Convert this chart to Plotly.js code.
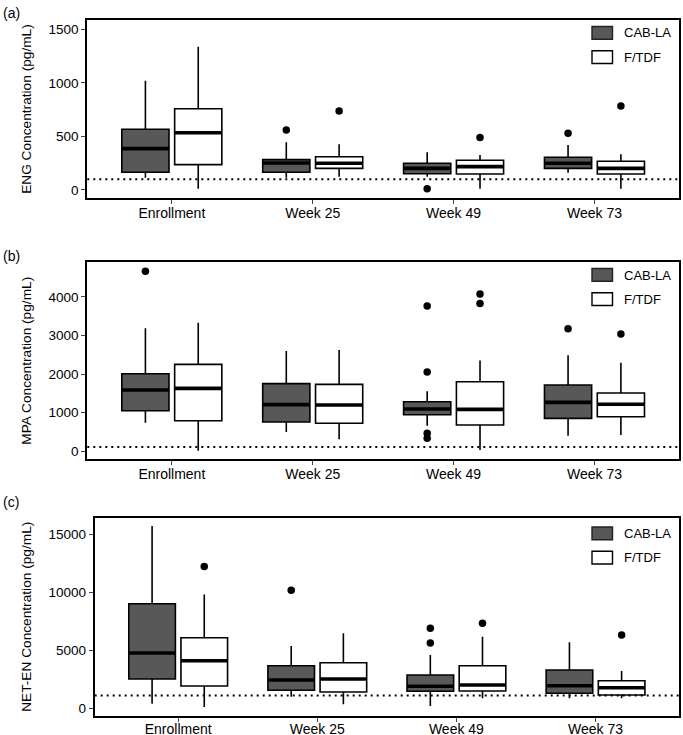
<!DOCTYPE html>
<html>
<head>
<meta charset="utf-8">
<script src="https://cdn.plot.ly/plotly-3.0.1.min.js"></script>
<style>
  html, body { margin: 0; padding: 0; background: #ffffff; }
  #chart { width: 683px; height: 735px; }
</style>
</head>
<body>
<div id="chart"></div>
<script>
// Visit labels shared by all three panels
const categories = ['Enrollment', 'Week 25', 'Week 49', 'Week 73'];
const groups = ['CAB-LA', 'F/TDF'];

// (a) ENG concentration (pg/mL): box summaries per visit
const engCabLower  = [115, 115, 124, 162];
const engCabQ1     = [165, 165, 152, 202];
const engCabMedian = [386, 252, 202, 249];
const engCabQ3     = [567, 283, 249, 305];
const engCabUpper  = [1019, 446, 352, 420];
const engCabOutliers = [[], [561], [12], [529]];

const engTdfLower  = [12, 124, 12, 12];
const engTdfQ1     = [237, 202, 149, 149];
const engTdfMedian = [535, 249, 218, 202];
const engTdfQ3     = [759, 311, 277, 268];
const engTdfUpper  = [1338, 426, 327, 333];
const engTdfOutliers = [[], [738], [489], [784]];

const engLimit = 100;

// (b) MPA concentration (pg/mL)
const mpaCabLower  = [741, 501, 663, 404];
const mpaCabQ1     = [1052, 760, 948, 855];
const mpaCabMedian = [1588, 1209, 1096, 1269];
const mpaCabQ3     = [2010, 1754, 1285, 1718];
const mpaCabUpper  = [3193, 2600, 1554, 2487];
const mpaCabOutliers = [[4670], [], [3764, 2054, 466, 337], [3176]];

const mpaTdfLower  = [16, 311, 34, 422];
const mpaTdfQ1     = [793, 726, 681, 896];
const mpaTdfMedian = [1632, 1201, 1088, 1218];
const mpaTdfQ3     = [2253, 1736, 1803, 1510];
const mpaTdfUpper  = [3331, 2626, 2357, 2295];
const mpaTdfOutliers = [[], [], [4075, 3834], [3039]];

const mpaLimit = 115;

// (c) NET-EN concentration (pg/mL)
const netCabLower  = [397, 1000, 198, 862];
const netCabQ1     = [2526, 1552, 1465, 1293];
const netCabMedian = [4767, 2440, 1896, 1948];
const netCabQ3     = [9017, 3672, 2870, 3301];
const netCabUpper  = [15714, 5370, 4595, 5689];
const netCabOutliers = [[], [10172], [6896, 5629], []];

const netTdfLower  = [115, 345, 862, 862];
const netTdfQ1     = [1922, 1405, 1491, 1146];
const netTdfMedian = [4103, 2526, 2008, 1776];
const netTdfQ3     = [6086, 3931, 3672, 2379];
const netTdfUpper  = [9809, 6465, 6172, 3215];
const netTdfOutliers = [[12232], [], [7327], [6318]];

const netLimit = 1100;

// ---------------------------------------------------------------------------
const W = 683, H = 735;
const FONT = '"Liberation Sans", Arial, sans-serif';
const DODGE = 0.1875;   // half the dodge width between the two arms
const BOX_W = 0.335;    // box width in category units
const fills = ['#585858', '#ffffff'];

const px = x => x / W;
const py = y => 1 - y / H;

const panels = [
  { tag: '(a)', title: 'ENG Concentration (pg/mL)', rect: [87.3, 20, 679, 197.7],
    range: [-72, 1587], dtick: 500, limit: engLimit, labelY: 12.5, labelShift: -3,
    stats: [
      [engCabLower, engCabQ1, engCabMedian, engCabQ3, engCabUpper, engCabOutliers],
      [engTdfLower, engTdfQ1, engTdfMedian, engTdfQ3, engTdfUpper, engTdfOutliers]] },
  { tag: '(b)', title: 'MPA Concentration (pg/mL)', rect: [87.3, 262, 679, 459.3],
    range: [-207, 4907], dtick: 1000, limit: mpaLimit, labelY: 256, labelShift: -3,
    stats: [
      [mpaCabLower, mpaCabQ1, mpaCabMedian, mpaCabQ3, mpaCabUpper, mpaCabOutliers],
      [mpaTdfLower, mpaTdfQ1, mpaTdfMedian, mpaTdfQ3, mpaTdfUpper, mpaTdfOutliers]] },
  { tag: '(c)', title: 'NET-EN Concentration (pg/mL)', rect: [94.7, 518, 679, 715.7],
    range: [-638, 16405], dtick: 5000, limit: netLimit, labelY: 502, labelShift: -5,
    stats: [
      [netCabLower, netCabQ1, netCabMedian, netCabQ3, netCabUpper, netCabOutliers],
      [netTdfLower, netTdfQ1, netTdfMedian, netTdfQ3, netTdfUpper, netTdfOutliers]] }
];

const traces = [];
const layout = {
  width: W, height: H,
  margin: { l: 0, r: 0, t: 0, b: 0 },
  paper_bgcolor: '#ffffff', plot_bgcolor: '#ffffff',
  showlegend: false,
  font: { family: FONT, color: '#000000' },
  shapes: [], annotations: []
};

panels.forEach((p, k) => {
  const n = k === 0 ? '' : String(k + 1);
  const xa = 'x' + n, ya = 'y' + n;
  const [x0, y0, x1, y1] = p.rect;

  layout['xaxis' + n] = {
    domain: [px(x0), px(x1)], anchor: ya,
    range: [-0.6, 3.6], tickmode: 'array',
    tickvals: categories.map((_, i) => i), ticktext: categories,
    showgrid: false, zeroline: false,
    showline: true, mirror: true, linecolor: '#000000', linewidth: 2,
    ticks: 'outside', ticklen: 4, tickwidth: 1, tickcolor: '#444444',
    ticklabelstandoff: p.labelShift,
    tickfont: { family: FONT, size: 14, color: '#000000' },
    fixedrange: true
  };
  layout['yaxis' + n] = {
    domain: [py(y1), py(y0)], anchor: xa,
    range: p.range, dtick: p.dtick, tick0: 0, tickformat: 'd',
    showgrid: false, zeroline: false,
    showline: true, mirror: true, linecolor: '#000000', linewidth: 2,
    ticks: 'outside', ticklen: 4, tickwidth: 1, tickcolor: '#444444',
    tickfont: { family: FONT, size: 13.5, color: '#000000' },
    fixedrange: true
  };

  p.stats.forEach((s, g) => {
    const [lo, q1, med, q3, hi, outs] = s;
    const off = g === 0 ? -DODGE : DODGE;
    const pos = categories.map((_, i) => i + off);

    traces.push({
      type: 'box', name: groups[g], xaxis: xa, yaxis: ya,
      x: pos, q1: q1, median: med, q3: q3, lowerfence: lo, upperfence: hi,
      width: BOX_W, whiskerwidth: 0, boxpoints: false,
      fillcolor: fills[g], line: { color: '#000000', width: 1.6 },
      hoverinfo: 'skip', showlegend: false
    });

    // heavier median bar drawn over each box
    const mx = [], my = [];
    pos.forEach((c, i) => {
      mx.push(c - BOX_W / 2, c + BOX_W / 2, null);
      my.push(med[i], med[i], null);
    });
    traces.push({
      type: 'scatter', mode: 'lines', xaxis: xa, yaxis: ya,
      x: mx, y: my, line: { color: '#000000', width: 3.6 },
      hoverinfo: 'skip', showlegend: false
    });

    // outlying observations
    const ox = [], oy = [];
    outs.forEach((vals, i) => vals.forEach(v => { ox.push(pos[i]); oy.push(v); }));
    traces.push({
      type: 'scatter', mode: 'markers', xaxis: xa, yaxis: ya,
      x: ox, y: oy, marker: { color: '#000000', size: 7.5 },
      hoverinfo: 'skip', showlegend: false
    });
  });

  // dotted reference level across the panel
  layout.shapes.push({
    type: 'line', xref: xa + ' domain', yref: ya,
    x0: 0, x1: 1, y0: p.limit, y1: p.limit,
    line: { color: '#000000', width: 2, dash: '2px,4px' }
  });

  // in-panel key
  const keyTop = k === 2 ? y0 + 9 : y0 + 6.5;
  groups.forEach((gname, g) => {
    const top = keyTop + g * 24.3;
    layout.shapes.push({
      type: 'rect', xref: 'paper', yref: 'paper',
      x0: px(592), x1: px(612.5), y0: py(top + 12.7), y1: py(top),
      fillcolor: fills[g], line: { color: g === 0 ? '#222222' : '#000000', width: 1.4 }
    });
    layout.annotations.push({
      xref: 'paper', yref: 'paper', x: px(621.5), y: py(top + 6.5),
      xanchor: 'left', yanchor: 'middle', showarrow: false,
      text: gname, font: { family: FONT, size: 13, color: '#000000' }
    });
  });

  // panel tag
  layout.annotations.push({
    xref: 'paper', yref: 'paper', x: px(0.5), y: py(p.labelY),
    xanchor: 'left', yanchor: 'middle', showarrow: false,
    text: p.tag, font: { family: FONT, size: 14, color: '#000000' }
  });

  // y-axis title
  layout.annotations.push({
    xref: 'paper', yref: 'paper', x: px(27), y: py((y0 + y1) / 2),
    xanchor: 'center', yanchor: 'middle', showarrow: false, textangle: -90,
    text: p.title, font: { family: FONT, size: 13.7, color: '#000000' }
  });
});

Plotly.newPlot('chart', traces, layout, { staticPlot: true, displayModeBar: false });
</script>
</body>
</html>
